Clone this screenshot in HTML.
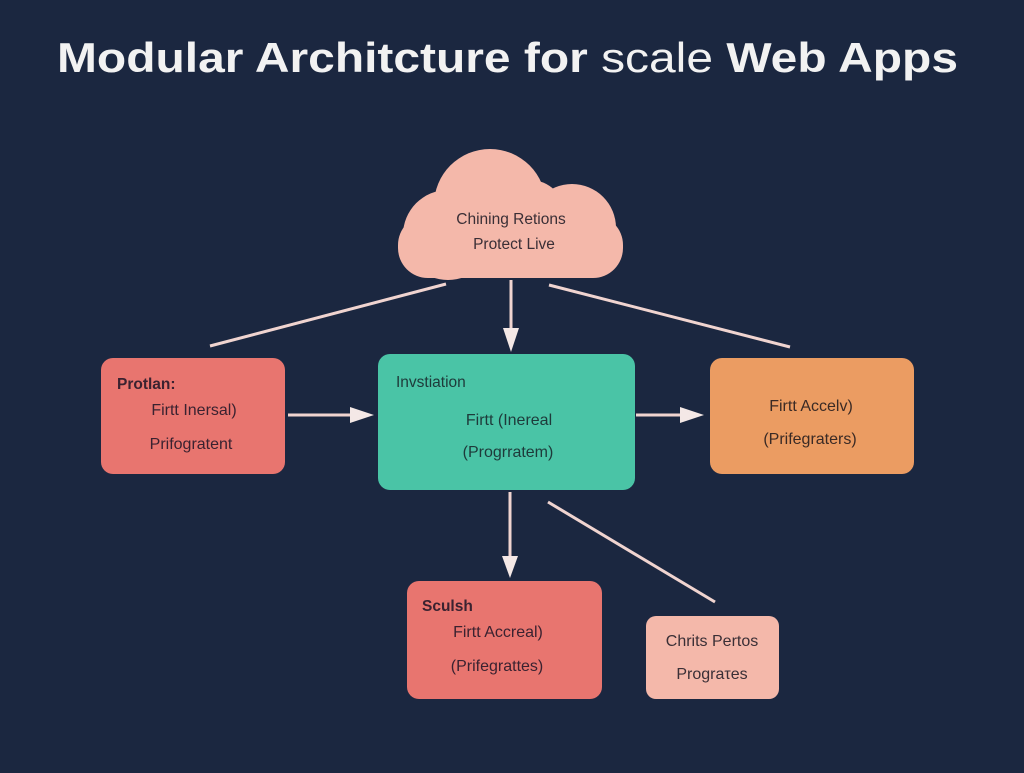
<!DOCTYPE html>
<html><head><meta charset="utf-8"><style>
body{margin:0;width:1024px;height:768px;background:#1b2740;overflow:hidden;font-family:"Liberation Sans",sans-serif}
</style></head><body>
<svg width="1024" height="768" viewBox="0 0 1024 768" xmlns="http://www.w3.org/2000/svg" font-family="Liberation Sans, sans-serif">
<rect width="1024" height="768" fill="#1b2740"/>
<text x="57" y="72" font-size="42" font-weight="bold" fill="#f2f2f2" textLength="901" lengthAdjust="spacingAndGlyphs">Modular Architcture for <tspan font-weight="normal">scale</tspan> Web Apps</text>
<!-- cloud -->
<g fill="#f4b8aa">
<circle cx="490" cy="205" r="56"/>
<circle cx="572" cy="228" r="44"/>
<circle cx="448" cy="235" r="45"/>
<rect x="398" y="215" width="225" height="63" rx="30"/>
<circle cx="530" cy="215" r="35"/>
</g>
<text x="511" y="224" text-anchor="middle" font-size="15.5" fill="#3a2f36">Chining Retions</text>
<text x="514" y="249" text-anchor="middle" font-size="15.5" fill="#3a2f36">Protect Live</text>
<!-- connectors -->
<g stroke="#f0d4d0" stroke-width="3" fill="#f0e4e2">
<line x1="446" y1="284" x2="210" y2="346"/>
<line x1="549" y1="285" x2="790" y2="347"/>
<line x1="511" y1="280" x2="511" y2="330"/>
<line x1="288" y1="415" x2="352" y2="415"/>
<line x1="636" y1="415" x2="682" y2="415"/>
<line x1="510" y1="492" x2="510" y2="558"/>
<line x1="548" y1="502" x2="715" y2="602"/>
</g>
<g fill="#f4e8e6">
<polygon points="503,328 519,328 511,352"/>
<polygon points="350,407 350,423 374,415"/>
<polygon points="680,407 680,423 704,415"/>
<polygon points="502,556 518,556 510,578"/>
</g>
<!-- boxes -->
<rect x="101" y="358" width="184" height="116" rx="12" fill="#e8756f"/>
<text x="117" y="389" font-size="15.5" font-weight="bold" fill="#3a2230">Protlan:</text>
<text x="194" y="415" text-anchor="middle" font-size="16" fill="#3a2230">Firtt Inersal)</text>
<text x="191" y="449" text-anchor="middle" font-size="16" fill="#3a2230">Prifogratent</text>

<rect x="378" y="354" width="257" height="136" rx="12" fill="#4ac4a6"/>
<text x="396" y="387" font-size="15.5" fill="#1e3a3a">Invstiation</text>
<text x="509" y="425" text-anchor="middle" font-size="16" fill="#1e3a3a">Firtt (Inereal</text>
<text x="508" y="457" text-anchor="middle" font-size="16" fill="#1e3a3a">(Progrratem)</text>

<rect x="710" y="358" width="204" height="116" rx="12" fill="#eb9c62"/>
<text x="811" y="411" text-anchor="middle" font-size="16" fill="#3a2a25">Firtt Accelv)</text>
<text x="810" y="444" text-anchor="middle" font-size="16" fill="#3a2a25">(Prifegraters)</text>

<rect x="407" y="581" width="195" height="118" rx="12" fill="#e8756f"/>
<text x="422" y="611" font-size="15.5" font-weight="bold" fill="#3a2230">Sculsh</text>
<text x="498" y="637" text-anchor="middle" font-size="16" fill="#3a2230">Firtt Accreal)</text>
<text x="497" y="671" text-anchor="middle" font-size="16" fill="#3a2230">(Prifegrattes)</text>

<rect x="646" y="616" width="133" height="83" rx="10" fill="#f4b8aa"/>
<text x="712" y="646" text-anchor="middle" font-size="16" fill="#3a2f36">Chrits Pertos</text>
<text x="712" y="679" text-anchor="middle" font-size="16" fill="#3a2f36">Prograτes</text>
</svg>
</body></html>
